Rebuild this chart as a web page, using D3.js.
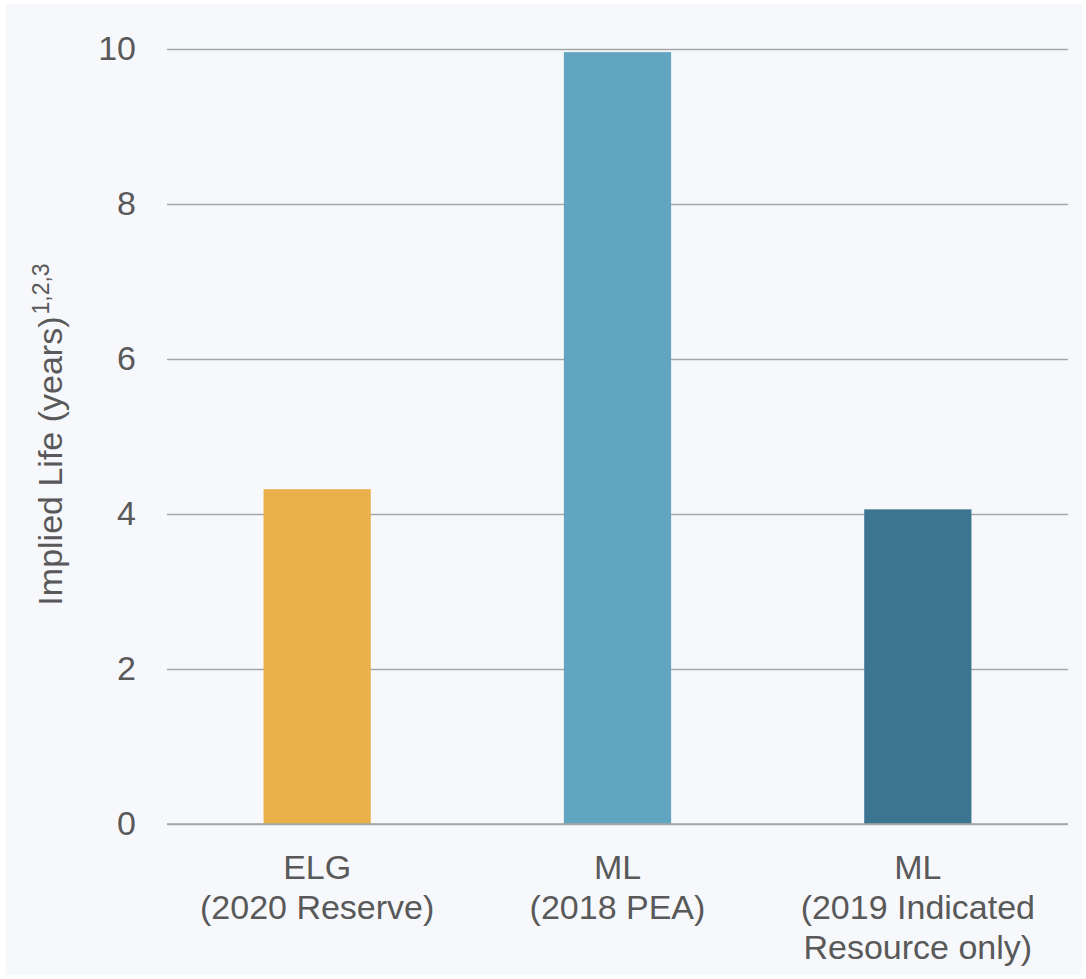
<!DOCTYPE html>
<html>
<head>
<meta charset="utf-8">
<script src="https://cdn.jsdelivr.net/npm/d3@7"></script>
<style>
html,body{margin:0;padding:0;background:#ffffff;}
svg{display:block;font-family:"Liberation Sans",Arial,sans-serif;}
</style>
</head>
<body>
<svg id="chart" width="1086" height="979"></svg>
<script>
const categories = ["ELG|(2020 Reserve)", "ML|(2018 PEA)", "ML|(2019 Indicated|Resource only)"];
const values = [4.32, 9.96, 4.06];
const colors = ["#EAB04A", "#62A5C1", "#3C7590"];
const yTicks = [0, 2, 4, 6, 8, 10];
const yTitle = "Implied Life (years)";
const yTitleSup = "1,2,3";

const FONT = "'Liberation Sans', Arial, sans-serif";
const svg = d3.select("#chart");
const W = 1086, H = 979;
const m = {left: 167, right: 18, top: 49, bottom: 155};
const pw = W - m.left - m.right, ph = H - m.top - m.bottom;

svg.append("rect").attr("x", 6).attr("y", 4).attr("width", W - 10).attr("height", H - 8).attr("fill", "#f7f8fc");

const g = svg.append("g").attr("transform", `translate(${m.left},${m.top})`);

const x = d3.scaleBand().domain(categories).range([0, pw]).paddingInner(0.643).paddingOuter(0.3215);
const y = d3.scaleLinear().domain([0, 10]).range([ph, 0]);

// gridlines + tick labels
const yAxis = d3.axisLeft(y).tickValues(yTicks).tickSize(-pw).tickPadding(31).tickFormat(d3.format("d"));
const ya = g.append("g").call(yAxis);
ya.select(".domain").remove();
ya.selectAll(".tick line").attr("stroke", "#a6a6a6").attr("stroke-width", 1.5);
ya.selectAll(".tick text").attr("fill", "#595959").attr("font-size", 34).attr("font-family", FONT);

// bars
g.selectAll("rect.bar").data(categories).enter().append("rect")
  .attr("class", "bar")
  .attr("x", d => x(d))
  .attr("width", x.bandwidth())
  .attr("y", (d, i) => y(values[i]))
  .attr("height", (d, i) => y(0) - y(values[i]))
  .attr("fill", (d, i) => colors[i]);

// redraw zero line over bars
g.append("line").attr("x1", 0).attr("x2", pw).attr("y1", y(0)).attr("y2", y(0))
  .attr("stroke", "#a6a6a6").attr("stroke-width", 1.5);

// category labels
const xa = g.append("g").attr("transform", `translate(0,${ph})`);
categories.forEach(c => {
  const lines = c.split("|");
  const t = xa.append("text").attr("text-anchor", "middle").attr("fill", "#595959").attr("font-size", 34)
    .attr("font-family", FONT).attr("x", x(c) + x.bandwidth() / 2);
  lines.forEach((l, i) => {
    t.append("tspan").attr("x", x(c) + x.bandwidth() / 2).attr("y", 55 + i * 40).text(l);
  });
});

// y title
const tt = svg.append("text")
  .attr("transform", `translate(62,${m.top + ph / 2 - 2}) rotate(-90)`)
  .attr("text-anchor", "middle").attr("fill", "#595959").attr("font-size", 34).attr("font-family", FONT);
tt.append("tspan").text(yTitle);
tt.append("tspan").attr("font-size", 23).attr("dx", 2).attr("dy", -13).text(yTitleSup);
</script>
</body>
</html>
